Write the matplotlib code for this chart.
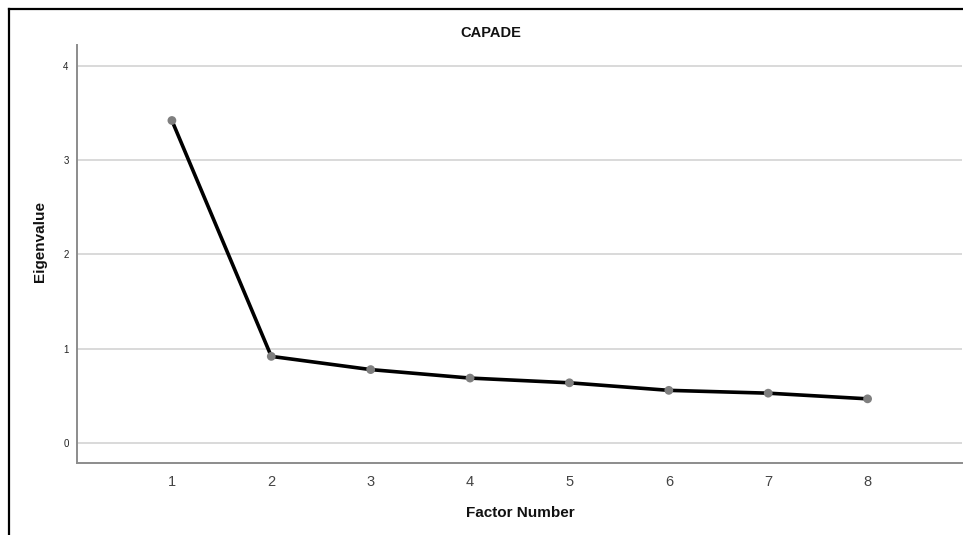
import matplotlib
matplotlib.use("Agg")
import matplotlib.pyplot as plt
from matplotlib.lines import Line2D

plt.rcParams['font.family'] = ['Liberation Sans', 'DejaVu Sans']

factors = [1, 2, 3, 4, 5, 6, 7, 8]
eigenvalues = [3.42, 0.92, 0.78, 0.69, 0.64, 0.56, 0.53, 0.47]
y_ticks = [0, 1, 2, 3, 4]
title = "CAPADE"
x_label = "Factor Number"
y_label = "Eigenvalue"

W, H = 963, 535
fig = plt.figure(figsize=(W / 100, H / 100), dpi=100)
ax = fig.add_axes([77 / W, 1 - 463 / H, (962 - 77) / W, (463 - 45) / H])

ax.plot(factors, eigenvalues, color='black', lw=2.6, zorder=3,
         solid_capstyle='round')
ax.scatter(factors, eigenvalues, s=40, color='#7f7f7f', zorder=4,
           edgecolors='none')

ax.set_xlim(0.045, 8.95)
ax.set_ylim(-0.21, 4.22)
ax.set_yticks(y_ticks)
ax.set_xticks(factors)
ax.grid(axis='y', color='#cfcfcf', lw=1.1)
ax.set_axisbelow(True)

for s in ['top', 'right']:
    ax.spines[s].set_visible(False)
for s in ['left', 'bottom']:
    ax.spines[s].set_color('#8c8c8c')
    ax.spines[s].set_linewidth(1.4)

ax.tick_params(axis='y', length=0, labelsize=7, labelcolor='#222222', pad=6)
ax.tick_params(axis='x', length=0, labelsize=10.5, labelcolor='#444444', pad=9)

fig.text(491 / W, 1 - 33 / H, title, ha='center', va='center',
         fontsize=10.5, fontweight='bold', color='#111111')
fig.text(520 / W, 1 - 513 / H, x_label, ha='center', va='center',
         fontsize=11, fontweight='bold', color='#111111')
fig.text(40 / W, 1 - 242 / H, y_label, ha='center', va='center',
         rotation=90, fontsize=11, fontweight='bold', color='#111111')

# outer frame (left and top)
fig.add_artist(Line2D([8.5 / W, 8.5 / W], [0, 1 - 9 / H], color='black',
                      lw=1.6, transform=fig.transFigure))
fig.add_artist(Line2D([8.5 / W, 1], [1 - 9 / H, 1 - 9 / H], color='black',
                      lw=1.6, transform=fig.transFigure))

fig.savefig('out.png', dpi=100)
